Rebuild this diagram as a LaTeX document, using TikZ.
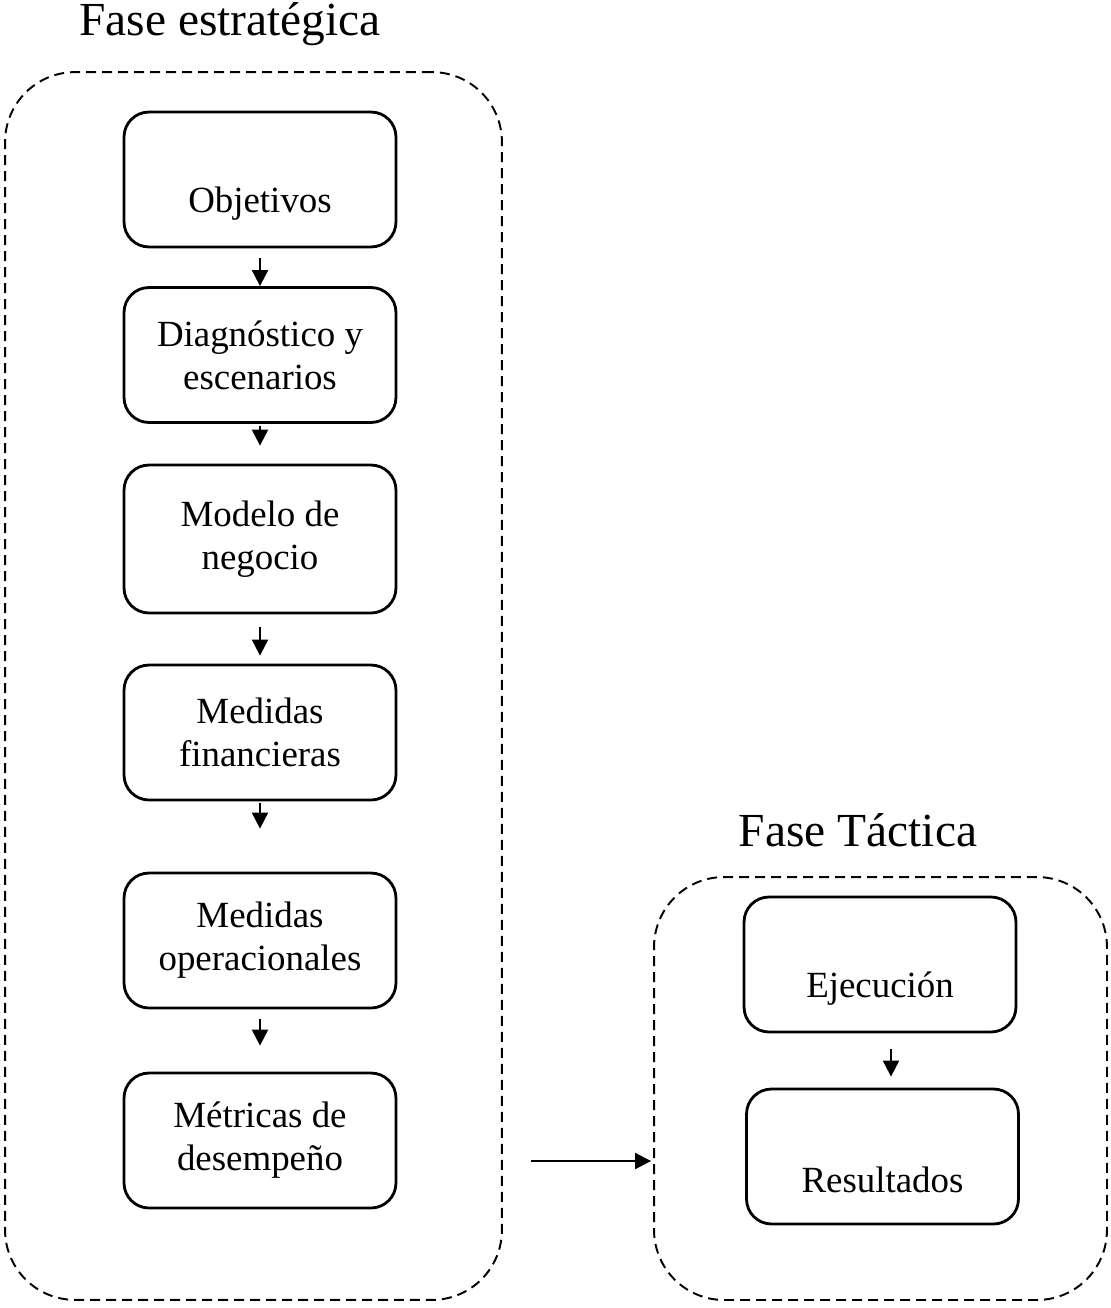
\documentclass[tikz,border=0pt]{standalone}
\usepackage{fontspec}
\setmainfont{Liberation Serif}
\usetikzlibrary{arrows.meta}
\begin{document}
\begin{tikzpicture}[x=0.02cm,y=-0.02cm]
		\tikzstyle{stage}=[draw,thick,line width=1.6pt,rounded corners=0.5cm,align=center,minimum width=5.44cm,minimum height=2.7cm,inner sep=0,font=\fontsize{21}{24.4}\selectfont]
		\tikzstyle{phase}=[draw,line width=1.1pt,dash pattern=on 0.2cm off 0.12cm,rounded corners=1.4cm,inner sep=0]
		\tikzstyle{title}=[font=\fontsize{27}{30}\selectfont,inner sep=0]
		\tikzstyle{edge}=[-{Triangle[length=0.32cm,width=0.32cm]},line width=1.1pt]
		\useasboundingbox (0,0) rectangle (1110,1308);
		
		\node [title] (tit1) at (230, 24) {Fase estratégica};
		\node [title] (tit2) at (858, 830) {Fase Táctica};
		\node [phase, minimum width=9.94cm, minimum height=24.56cm] (estr) at (253.5, 686) {};
		\node [phase, minimum width=9.06cm, minimum height=8.46cm] (tact) at (880.5, 1088.5) {};
		
		\node [stage] (obj)  at (260, 179.5)  {\strut\\Objetivos};
		\node [stage] (diag) at (260, 355)    {Diagnóstico y\\escenarios};
		\node [stage, minimum height=2.96cm] (mod) at (260, 539) {Modelo de\\negocio};
		\node [stage] (fin)  at (260, 732.5)  {Medidas\\financieras};
		\node [stage] (oper) at (260, 940.5)  {Medidas\\operacionales};
		\node [stage] (met)  at (260, 1140.5) {Métricas de\\desempeño};
		
		\node [stage] (ejec) at (880, 964.5)  {\strut\\Ejecución};
		\node [stage] (res)  at (882.5, 1156.5) {\strut\\Resultados};
		
		\draw[edge, shorten <=0.2cm] (obj) -- (diag);
		\draw[edge, shorten <=0.04cm, shorten >=0.36cm] (diag) -- (mod);
		\draw[edge, shorten <=0.26cm, shorten >=0.16cm] (mod) -- (fin);
		\draw[edge, shorten <=0.04cm, shorten >=0.86cm] (fin) -- (oper);
		\draw[edge, shorten <=0.2cm, shorten >=0.52cm] (oper) -- (met);
		\draw[edge, shorten <=0.32cm, shorten >=0.22cm] ([xshift=0.22cm]ejec.south) -- ([xshift=0.22cm]ejec.south |- res.north);
		
		\coordinate (src) at (531, 1161);
		\draw[edge, shorten >=0.04cm] (src) -- (src -| tact.west);
	\end{tikzpicture}
\end{document}
